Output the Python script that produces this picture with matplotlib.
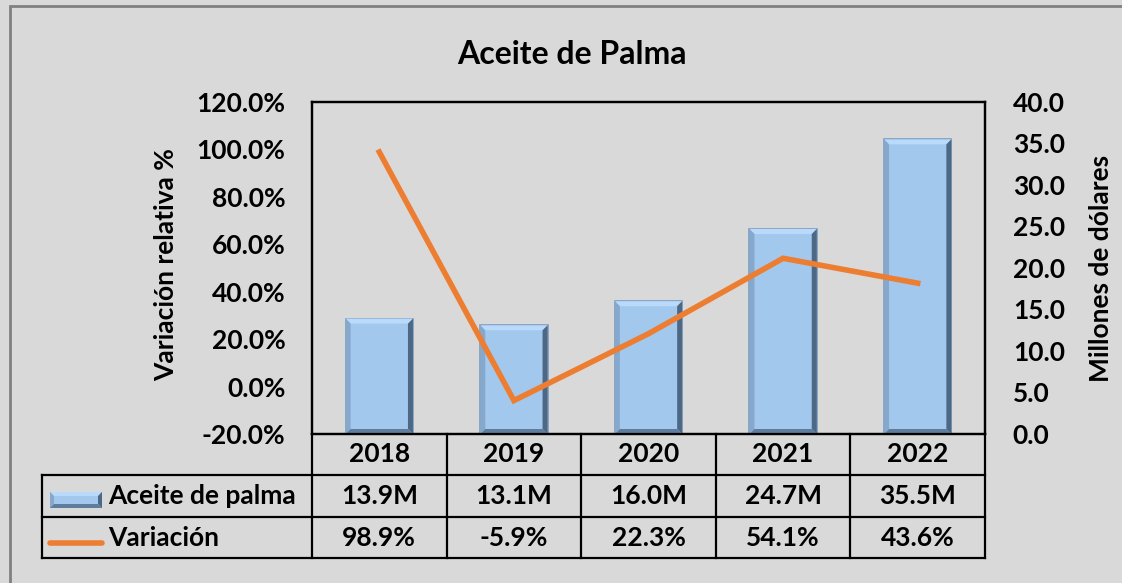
import matplotlib
matplotlib.use("Agg")
import matplotlib.pyplot as plt
import matplotlib.patches as mpatches
import matplotlib.transforms as mtransforms
from matplotlib.lines import Line2D

# datos
years = ['2018', '2019', '2020', '2021', '2022']
aceite = [13.9, 13.1, 16.0, 24.7, 35.5]      # millones de dólares
variacion = [98.9, -5.9, 22.3, 54.1, 43.6]   # variación relativa %

W, H = 1122, 583
plt.rcParams['font.family'] = ['Lato', 'DejaVu Sans']
plt.rcParams['font.weight'] = 'bold'
BG = '#d9d9d9'
ORANGE = '#ed7d31'
FS = 19

fig = plt.figure(figsize=(W / 100, H / 100), dpi=100, facecolor=BG)


def fx(x):
    return x / W


def fy(y):
    return 1 - y / H


# plot area in pixels
L, R, T, B = 312, 985, 102, 434
ax = fig.add_axes([fx(L), fy(B), (R - L) / W, (B - T) / H])
ax2 = ax.twinx()
ax.set_zorder(ax2.get_zorder() + 1)
ax.patch.set_visible(False)
ax2.set_facecolor(BG)

x = list(range(len(years)))
ax.set_xlim(-0.5, len(years) - 0.5)
ax2.set_xlim(-0.5, len(years) - 0.5)
ax.set_ylim(-20, 120)
ax2.set_ylim(0, 40)


def bevel_bar(axis, xc, h, w, bx, by, y0=0):
    x0, x1 = xc - w / 2, xc + w / 2
    y1 = y0 + h
    axis.add_patch(mpatches.Rectangle((x0, y0), w, h, facecolor='#a3c8ed',
                                      edgecolor='#7d9dbf', lw=1.2, zorder=2))
    faces = [
        ([(x0, y1), (x1, y1), (x1 - bx, y1 - by), (x0 + bx, y1 - by)], '#b9dafa'),
        ([(x0, y0), (x0, y1), (x0 + bx, y1 - by), (x0 + bx, y0 + by)], '#86a8cc'),
        ([(x1, y0), (x1, y1), (x1 - bx, y1 - by), (x1 - bx, y0 + by)], '#4d6885'),
        ([(x0, y0), (x1, y0), (x1 - bx, y0 + by), (x0 + bx, y0 + by)], '#5f7c9c'),
    ]
    for pts, c in faces:
        axis.add_patch(mpatches.Polygon(pts, closed=True, facecolor=c,
                                        edgecolor='none', zorder=3))


bw = 0.5
bx = 5 * len(years) / (R - L)
by = 5 * 40 / (B - T)
for xi, v in zip(x, aceite):
    bevel_bar(ax2, xi, v, bw, bx, by)

ax.plot(x, variacion, color=ORANGE, lw=4, solid_joinstyle='miter', zorder=5)

ax.set_yticks(range(-20, 121, 20))
ax.set_yticklabels([f'{v:.1f}%' for v in range(-20, 121, 20)])
ax2.set_yticks(range(0, 41, 5))
ax2.set_yticklabels([f'{v:.1f}' for v in range(0, 41, 5)])
ax.set_xticks([])
ax2.set_xticks([])
ax.tick_params(axis='y', length=0, pad=19, labelsize=FS)
ax2.tick_params(axis='y', length=0, pad=20, labelsize=FS)
for a in (ax, ax2):
    for s in a.spines.values():
        s.set_color('black')
        s.set_linewidth(1.6)

# titles and axis labels
fig.text(fx(572), fy(54), 'Aceite de Palma', ha='center', va='center', fontsize=23)
fig.text(fx(166), fy(265), 'Variación relativa %', ha='center', va='center',
         rotation=90, fontsize=FS)
fig.text(fx(1101), fy(268), 'Millones de dólares', ha='center', va='center',
         rotation=90, fontsize=FS)

# data table
tr = mtransforms.blended_transform_factory(ax.transData, fig.transFigure)
rows_y = [434, 475, 517, 558]
lk = dict(color='black', lw=1.6, solid_capstyle='projecting')
for i in range(len(years) + 1):
    xb = i - 0.5
    fig.add_artist(Line2D([xb, xb], [fy(rows_y[0]), fy(rows_y[-1])], transform=tr, **lk))
for yy in rows_y[1:]:
    fig.add_artist(Line2D([fx(42), fx(R)], [fy(yy), fy(yy)], **lk))
fig.add_artist(Line2D([fx(42), fx(42)], [fy(475), fy(558)], **lk))

row_mid = [(rows_y[k] + rows_y[k + 1]) / 2 for k in range(3)]
for xi, yr, a, v in zip(x, years, aceite, variacion):
    fig.text(xi, fy(row_mid[0]), yr, transform=tr, ha='center', va='center', fontsize=FS)
    fig.text(xi, fy(row_mid[1]), f'{a:.1f}M', transform=tr, ha='center', va='center', fontsize=FS)
    fig.text(xi, fy(row_mid[2]), f'{v:.1f}%', transform=tr, ha='center', va='center', fontsize=FS)

fig.text(fx(108), fy(row_mid[1]), 'Aceite de palma', ha='left', va='center', fontsize=FS)
fig.text(fx(108), fy(row_mid[2]), 'Variación', ha='left', va='center', fontsize=FS)

# legend keys
kax = fig.add_axes([fx(50), fy(508), 52 / W, 16 / H])
kax.set_xlim(0, 52)
kax.set_ylim(0, 16)
kax.axis('off')
bevel_bar(kax, 26, 16, 52, 4, 4)
fig.add_artist(Line2D([fx(50), fx(102)], [fy(543), fy(543)], color=ORANGE,
                      lw=4, solid_capstyle='round'))

# outer border
fig.add_artist(mpatches.Rectangle((fx(10), fy(600)), (1140 - 10) / W, (600 - 6) / H,
                                  fill=False, edgecolor='#808080', lw=2))

fig.savefig('out.png', dpi=100, facecolor=BG)
